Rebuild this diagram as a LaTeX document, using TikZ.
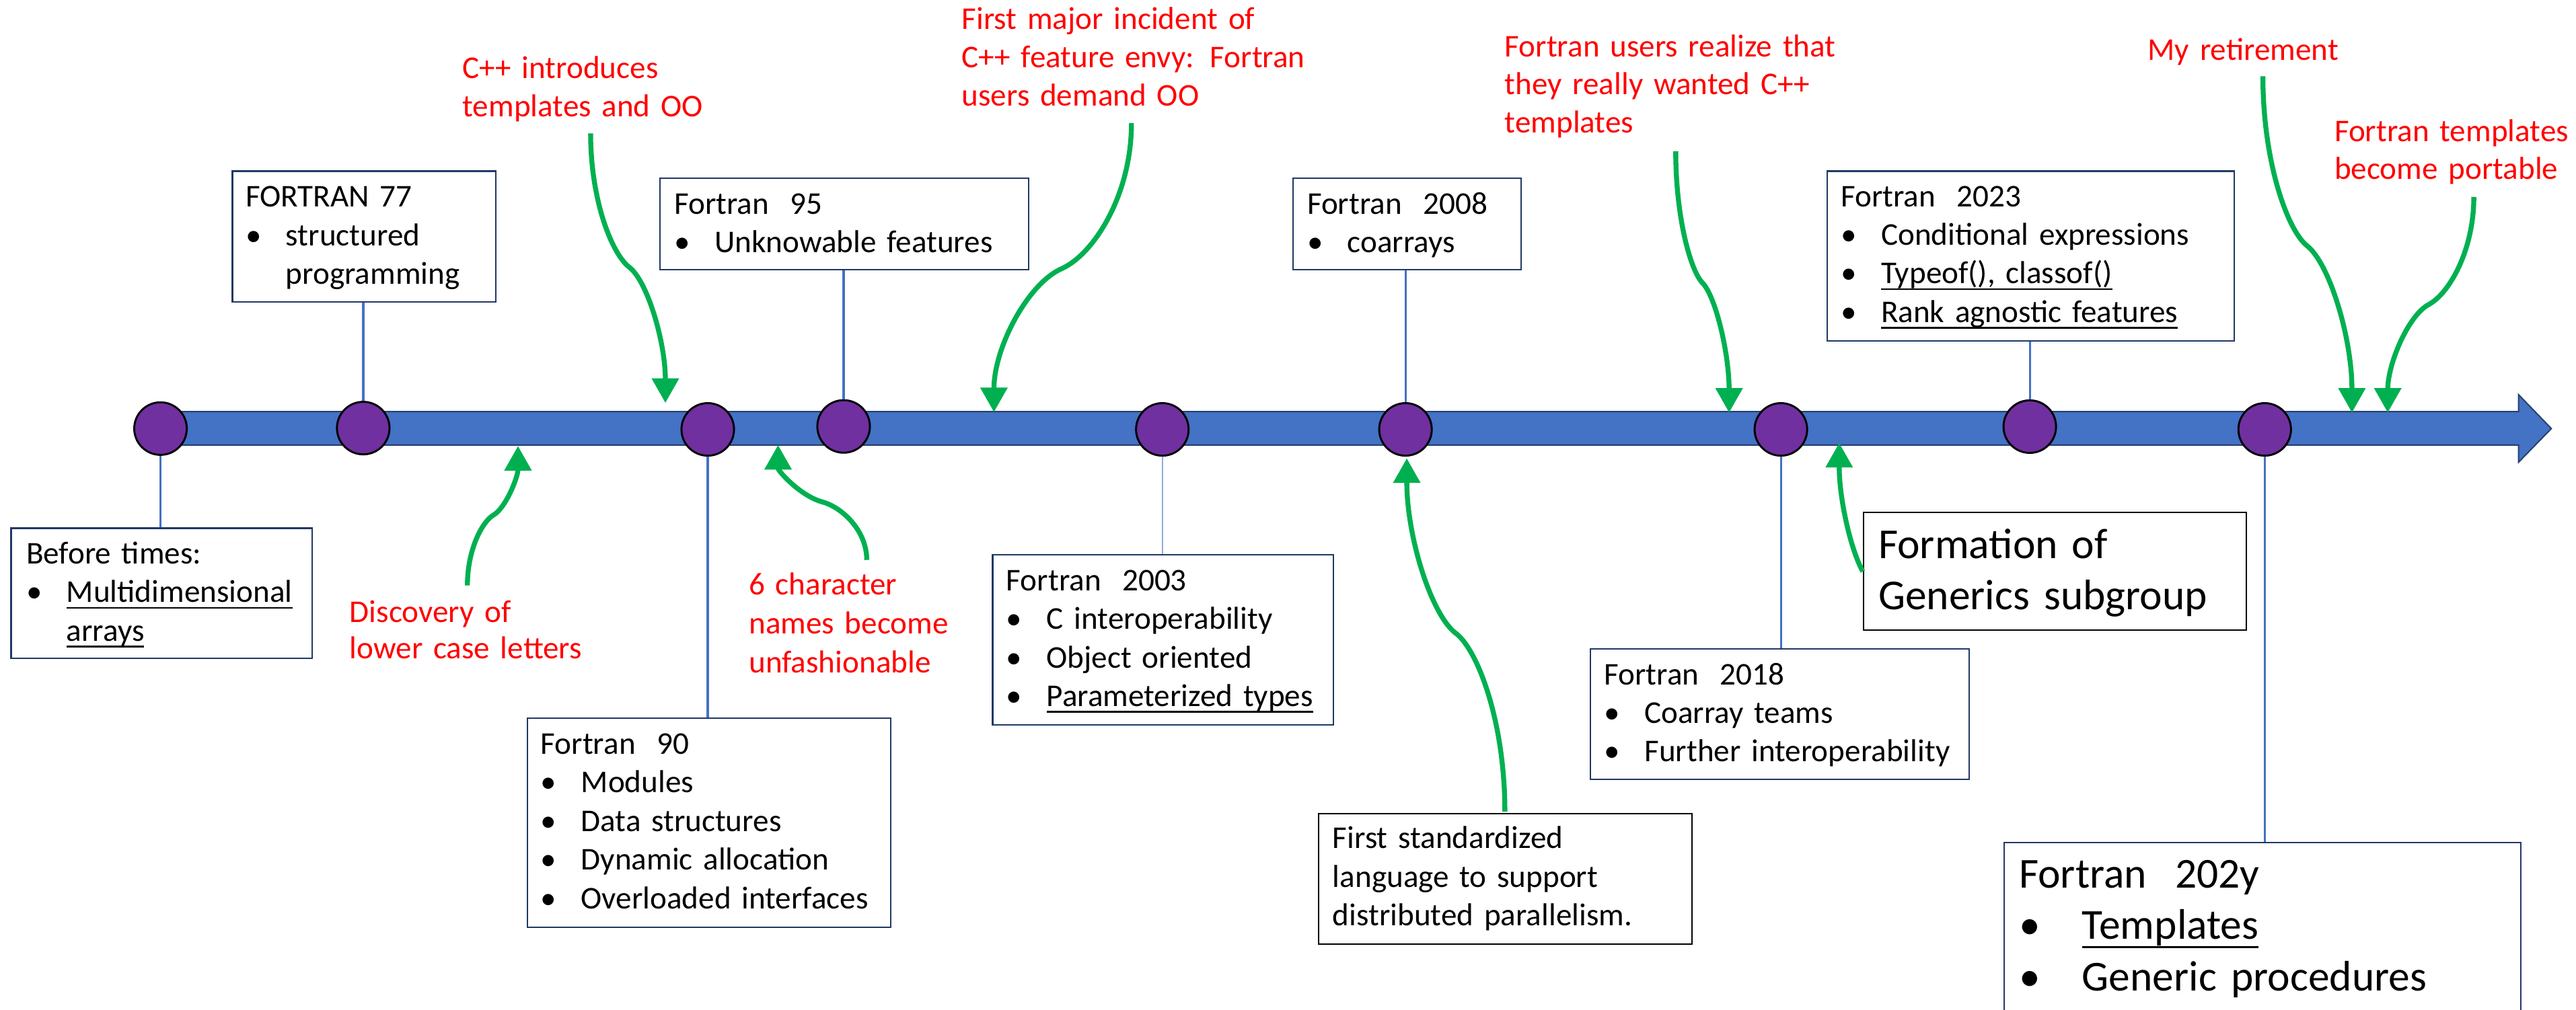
\documentclass[tikz,border=0pt]{standalone}
\usepackage{fontspec}
\setmainfont{Carlito}
\usetikzlibrary{arrows.meta}
\definecolor{barblue}{HTML}{4472C4}
\definecolor{bardark}{HTML}{253F6E}
\definecolor{purp}{HTML}{7030A0}
\definecolor{boxnavy}{HTML}{203864}
\definecolor{lightconn}{HTML}{8FAADC}
\definecolor{grn}{HTML}{00B050}
\definecolor{redtxt}{HTML}{FF0000}
\newlength{\ulw}
\newcommand{\uln}[2][-3.9pt]{\settowidth{\ulw}{#2}\rlap{\rule[#1]{\ulw}{1.1pt}}#2}
\newcommand{\itm}[2][24.5pt]{\makebox[#1][l]{\textbullet}#2}
\begin{document}
\begin{tikzpicture}[x=1pt,y=-1pt,
  box/.style={rectangle, draw=boxnavy, line width=0.9pt, fill=white, anchor=north west, inner sep=0pt},
  kbox/.style={box, draw=black},
  dot/.style={circle, fill=purp, draw=black, line width=1.2pt, minimum size=32pt, inner sep=0pt},
  conn/.style={draw=barblue, line width=1.3pt},
  lconn/.style={draw=lightconn, line width=0.8pt},
  garrow/.style={draw=grn, line width=3pt, -{Triangle[width=16pt,length=15pt]}},
  txt/.style={anchor=base west, inner sep=0pt, text width=400pt, align=left, font=\fontsize{19.3}{23.5}\selectfont},
  rtxt/.style={txt, text=redtxt, font=\fontsize{19.3}{23.3}\selectfont},
  btxt/.style={txt, font=\fontsize{26}{31.4}\selectfont}
]
\useasboundingbox (0,0) rectangle (1568,615);

% timeline bar
\draw[fill=barblue, draw=bardark, line width=0.8pt]
  (95,250.7) -- (1533,250.7) -- (1533,240.3) -- (1553,261) -- (1533,281.5) -- (1533,271) -- (95,271) -- cycle;

% boxes
\node[box, minimum width=183.4pt, minimum height=79.4pt] (bbefore) at (6.3,321.2) {};
\node[box, minimum width=160.4pt, minimum height=79.5pt] (b77) at (141,103.8) {};
\node[box, minimum width=221.2pt, minimum height=127.4pt] (b90) at (320.5,436.8) {};
\node[box, minimum width=224.6pt, minimum height=55.8pt] (b95) at (401.2,108.1) {};
\node[box, minimum width=207.4pt, minimum height=103.5pt] (b2003) at (603.8,337.4) {};
\node[box, minimum width=139pt, minimum height=55.8pt] (b2008) at (786.5,108.1) {};
\node[kbox, minimum width=227pt, minimum height=79.4pt] (bstd) at (802.3,495) {};
\node[box, minimum width=230.4pt, minimum height=79.4pt] (b2018) at (967.7,394.7) {};
\node[kbox, minimum width=232.8pt, minimum height=71.7pt] (bform) at (1134,311.6) {};
\node[box, minimum width=248pt, minimum height=103.5pt] (b2023) at (1111.6,103.8) {};
\node[box, minimum width=314.4pt, minimum height=120pt] (b202y) at (1219.6,512.6) {};

% milestones
\node[dot] (c1) at (97.7,261) {};
\node[dot] (c2) at (221.1,260.7) {};
\node[dot] (c3) at (430.8,261.5) {};
\node[dot] (c4) at (513.5,259.7) {};
\node[dot] (c5) at (707.5,261.5) {};
\node[dot] (c6) at (855.5,261.5) {};
\node[dot] (c7) at (1084,261.5) {};
\node[dot] (c8) at (1235.5,259.8) {};
\node[dot] (c9) at (1378.5,261.5) {};

% connectors
\draw[conn] (c1.south) -- (c1.south |- bbefore.north);
\draw[conn] (c2.north) -- (c2.north |- b77.south);
\draw[conn] (c3.south) -- (c3.south |- b90.north);
\draw[conn] (c4.north) -- (c4.north |- b95.south);
\draw[lconn] (c5.south) -- (c5.south |- b2003.north);
\draw[conn] (c6.north) -- (c6.north |- b2008.south);
\draw[conn] (c7.south) -- (c7.south |- b2018.north);
\draw[conn] (c8.north) -- (c8.north |- b2023.south);
\draw[conn] (c9.south) -- (c9.south |- b202y.north);

% green arrow end points
\coordinate (a1s) at (359.5,81.2);   \coordinate (a1t) at (405,245.4);
\coordinate (a2s) at (688.7,75);     \coordinate (a2t) at (605,251);
\coordinate (a3s) at (1020,92.1);    \coordinate (a3t) at (1052.5,251.3);
\coordinate (a4s) at (1377.4,46.4);  \coordinate (a4t) at (1431.6,251.3);
\coordinate (a5s) at (1505.8,119.9); \coordinate (a5t) at (1453.4,251.3);
\coordinate (a6s) at (284.5,356.5);  \coordinate (a6t) at (315.3,271.6);
\coordinate (a7s) at (527.6,341);    \coordinate (a7t) at (473.6,271);
\coordinate (a8s) at (916,494.3);    \coordinate (a8t) at (856.3,279.1);
\coordinate (a9s) at (1133.9,348);   \coordinate (a9t) at (1119.5,269.7);

\draw[garrow] (a1s) .. controls (359.5,121.95) and (372.4,154.5) .. (383,162.7)
  .. controls (394,171) and (405,208.2) .. (a1t);
\draw[garrow] (a2s) .. controls (688.7,119.2) and (665.6,154.6) .. (646.7,163.4)
  .. controls (625.8,172.2) and (605,211.6) .. (a2t);
\draw[garrow] (a3s) .. controls (1020,132) and (1028.8,164) .. (1036,172)
  .. controls (1044.3,179.9) and (1052.5,215.6) .. (a3t);
\draw[garrow] (a4s) .. controls (1377.4,97.9) and (1391.9,139) .. (1403.8,149.3)
  .. controls (1417.7,159.5) and (1431.6,205.4) .. (a4t);
\draw[garrow] (a5s) .. controls (1505.8,152.7) and (1490.7,178.8) .. (1478.4,185.4)
  .. controls (1465.9,192) and (1453.4,221.6) .. (a5t);
\draw[garrow] (a6s) .. controls (284.5,335.1) and (293.2,318) .. (300.3,313.7)
  .. controls (307.8,309.5) and (315.3,290.5) .. (a6t);
\draw[garrow] (a7s) .. controls (527.6,323.4) and (513,309.3) .. (501,305.8)
  .. controls (487.3,302.3) and (473.6,286.7) .. (a7t);
\draw[garrow] (a8s) .. controls (916,440.2) and (899.9,396.9) .. (886.7,386.1)
  .. controls (871.5,375.4) and (856.3,327.3) .. (a8t);
\draw[garrow] (a9s) .. controls (1127,336) and (1119.5,305) .. (a9t);

% box texts
\node[txt] (tbefore) at (15.8,343.3) {Before times:\\\itm{\uln{Multidimensional}}\\\hspace*{24.5pt}\uln{arrays}};
\node[txt] (t77) at (149.3,126.1) {FORTRAN 77\\\itm{structured}\\\hspace*{24.5pt}programming};
\node[txt] (t90) at (329,459.3) {Fortran\ \ 90\\\itm{Modules}\\\itm{Data structures}\\\itm{Dynamic allocation}\\\itm{Overloaded interfaces}};
\node[txt] (t95) at (410.3,130.4) {Fortran\ \ 95\\\itm{Unknowable features}};
\node[txt] (t2003) at (612.4,359.7) {Fortran\ \ 2003\\\itm{C interoperability}\\\itm{Object oriented}\\\itm{\uln{Parameterized types}}};
\node[txt] (t2008) at (795.5,130.4) {Fortran\ \ 2008\\\itm{coarrays}};
\node[txt] (tstd) at (811,516.7) {First standardized\\language to support\\distributed parallelism.};
\node[txt] (t2018) at (976.3,416.9) {Fortran\ \ 2018\\\itm{Coarray teams}\\\itm{Further interoperability}};
\node[btxt] (tform) at (1143.2,339.9) {Formation of\\Generics subgroup};
\node[txt] (t2023) at (1120.3,125.8) {Fortran\ \ 2023\\\itm{Conditional expressions}\\\itm{\uln{Typeof(), classof()}}\\\itm{\uln{Rank agnostic features}}};
\node[btxt] (t202y) at (1228.8,540.6) {Fortran\ \ 202y\\\itm[38.4pt]{\uln[-5.3pt]{Templates}}\\\itm[38.4pt]{Generic procedures}};

% red annotations
\node[rtxt] (rcpp) at (281.4,47.8) {C++ introduces\\templates and OO};
\node[rtxt] (rmajor) at (585.3,17.7) {First major incident of\\C++ feature envy: Fortran\\users demand OO};
\node[rtxt] (rfur) at (915.8,34.4) {Fortran users realize that\\they really wanted C++\\templates};
\node[rtxt] (rretire) at (1307.2,36.6) {My retirement};
\node[rtxt] (rport) at (1420.8,86) {Fortran templates\\become portable};
\node[rtxt, font=\fontsize{19.3}{22.5}\selectfont] (rdisc) at (212.7,378.8) {Discovery of\\lower case letters};
\node[rtxt, font=\fontsize{19.3}{23.6}\selectfont] (rsix) at (455.7,362.4) {6 character\\names become\\unfashionable};
\end{tikzpicture}
\end{document}
